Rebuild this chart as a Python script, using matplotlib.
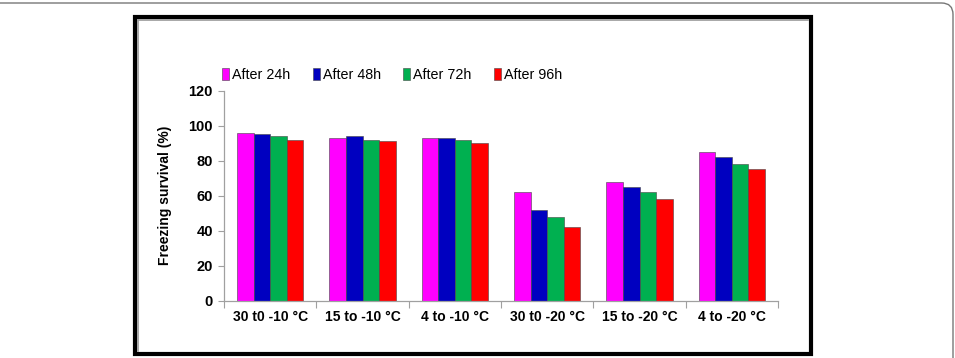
import matplotlib
matplotlib.use("Agg")
import matplotlib.pyplot as plt
from matplotlib.patches import Rectangle, FancyBboxPatch
import numpy as np

categories = ["30 t0 -10 °C", "15 to -10 °C", "4 to -10 °C", "30 t0 -20 °C", "15 to -20 °C", "4 to -20 °C"]
series_names = ["After 24h", "After 48h", "After 72h", "After 96h"]
after_24h = [96, 93, 93, 62, 68, 85]
after_48h = [95, 94, 93, 52, 65, 82]
after_72h = [94, 92, 92, 48, 62, 78]
after_96h = [92, 91, 90, 42, 58, 75]
y_ticks = [0, 20, 40, 60, 80, 100, 120]
colors = ["#FF00FF", "#0000C0", "#00B050", "#FF0000"]

plt.rcParams['font.family'] = ['Liberation Sans', 'DejaVu Sans']

fig = plt.figure(figsize=(9.55, 3.58), dpi=100)
W, H = 955, 358

# outer rounded frame (only top/right visible)
outer = FancyBboxPatch((-30 / W, -30 / H), (953 + 30) / W, (355 + 30) / H,
                       boxstyle="round,pad=0,rounding_size=0.012", transform=fig.transFigure,
                       fill=False, edgecolor="#777777", linewidth=1.0, mutation_aspect=W / H)
fig.patches.append(outer)

# inner black frame
inner = Rectangle((135 / W, 1 - 354 / H), (811 - 135) / W, (354 - 17) / H,
                  transform=fig.transFigure, fill=False, edgecolor="black", linewidth=3.0)
fig.patches.append(inner)
fig.add_artist(plt.Line2D([138 / W, 808 / W], [1 - 20 / H, 1 - 20 / H], transform=fig.transFigure,
                          color="#999999", linewidth=1.2))
fig.add_artist(plt.Line2D([138 / W, 138 / W], [1 - 20 / H, 1 - 351 / H], transform=fig.transFigure,
                          color="#999999", linewidth=1.2))

ax = fig.add_axes([224 / W, 1 - 300.7 / H, (778 - 224) / W, (300.7 - 90.7) / H])

series = [after_24h, after_48h, after_72h, after_96h]
x = np.arange(len(categories))
bw = 0.18
handles = []
for i, (vals, c, name) in enumerate(zip(series, colors, series_names)):
    b = ax.bar(x + (i - 1.5) * bw, vals, width=bw, color=c, edgecolor="#444444",
               linewidth=0.4, label=name)
    handles.append(b)

ax.set_xlim(-0.5, len(categories) - 0.5)
ax.set_ylim(0, 120)
ax.set_yticks(y_ticks)
ax.set_yticklabels([str(t) for t in y_ticks], fontsize=10.5, fontweight="bold")
ax.set_xticks(np.arange(len(categories) + 1) - 0.5)
ax.set_xticklabels([])
ax.set_xticks(x, minor=True)
ax.set_xticklabels(categories, minor=True, fontsize=10, fontweight="bold")
ax.tick_params(axis="x", which="minor", length=0, pad=7)
ax.tick_params(axis="x", which="major", length=5, color="#A0A0A0", direction="out")
ax.tick_params(axis="y", length=4, color="#A0A0A0", pad=4)
for s in ["top", "right"]:
    ax.spines[s].set_visible(False)
for s in ["left", "bottom"]:
    ax.spines[s].set_color("#A0A0A0")
    ax.spines[s].set_linewidth(0.9)

ax.set_ylabel("Freezing survival (%)", fontsize=10, fontweight="bold", labelpad=12)

fig.legend(handles=handles, labels=series_names, loc="center", bbox_to_anchor=(392 / W, 1 - 75 / H),
           ncol=4, frameon=False, fontsize=10.3, handlelength=0.5, handleheight=0.9,
           handletextpad=0.2, columnspacing=1.55)

fig.savefig("out.png", dpi=100)
